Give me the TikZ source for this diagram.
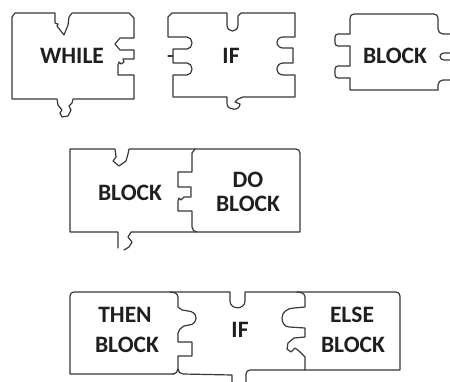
\documentclass[tikz,border=0pt]{standalone}
\usepackage{fontspec}
\setmainfont{Carlito}
\begin{document}
\begin{tikzpicture}[x=1pt,y=-1pt,
  piece/.style={draw=black!78, line width=1.2pt, line join=round, line cap=round},
  lbl/.style={font=\fontsize{23.5}{24}\selectfont\bfseries, text=black!88, inner sep=0pt}]
\useasboundingbox (0,0) rectangle (450,381);

% ---- Row 1: WHILE piece
\draw[piece] (12,17) -- (15,13) -- (55,13) -- (55,23) -- (58,24) -- (57,26) -- (64,35) -- (68,25) -- (69,17) -- (72,13)
  -- (129,13) -- (134,18) -- (134,38) -- (120,38) -- (115,44) -- (120,50) -- (134,50) -- (134,59)
  -- (123,59) -- (124,62) -- (121,64) -- (119,62) -- (118,65) -- (118,75) -- (134,75) -- (134,99)
  -- (73,99) -- (72,103) -- (69,106) -- (71,110) -- (68,116) -- (62,117) -- (60,113) -- (62,110) -- (58,105) -- (57,99)
  -- (12,99) -- cycle;

% ---- Row 1: IF piece
\draw[piece] (168,17) -- (172,13) -- (227,13) -- (227,25) .. controls (227,33) and (238,33) .. (238,25) -- (238,16) -- (241,13)
  -- (295,13) -- (295,37) -- (283,37) to[out=180,in=90] (277,42.5) to[out=-90,in=180] (283,48) -- (293,48) -- (293,63)
  -- (283,63) to[out=180,in=90] (277,69) to[out=-90,in=180] (283,75) -- (295,75) -- (295,97)
  -- (243,97) -- (238,99) -- (235,102) -- (240,104) .. controls (240,111) and (228,111) .. (227,104) -- (227,97)
  -- (173,97) -- (173,75) -- (187,75) to[out=0,in=-90] (192,69) to[out=90,in=0] (187,63) -- (173,63) -- (173,49)
  -- (187,49) to[out=0,in=-90] (192,43) to[out=90,in=0] (187,37) -- (168,37) -- cycle;
\draw[piece] (168,56) -- (173,56);

% ---- Row 1: BLOCK piece (cut at right border)
\draw[piece] (438,90) -- (350,90) -- (350,78) -- (338,78) to[out=180,in=-90] (335,75) -- (335,69) to[out=90,in=180] (338,66)
  -- (350,66) -- (350,46) -- (338,46) to[out=180,in=-90] (335,43) -- (335,37) to[out=90,in=180] (338,34) -- (350,34)
  -- (350,18) to[out=90,in=180] (354,14) -- (434,14) to[out=0,in=90] (438,18) -- (438,29) to[out=-90,in=180] (443,34) -- (451,34);
\draw[piece] (451,53) -- (444,53) to[out=180,in=90] (440,56.5) to[out=-90,in=180] (444,60) -- (451,60);
\draw[piece] (451,80) -- (443,80) to[out=180,in=90] (438,85) -- (438,90);

% ---- Row 2: BLOCK + DO BLOCK
\draw[piece] (118,248) -- (118,232) -- (70,232) -- (70,149) -- (115,149) -- (116,157) -- (113,161) -- (119,166) -- (126,161) -- (128,154) -- (129,149)
  -- (296,149) to[out=0,in=90] (300,153) -- (300,232) -- (131,232) -- (128,237) -- (132,242) -- (129,247) -- (124,250);
\draw[piece] (195,149) -- (192,153) -- (192,172) -- (178,172) -- (178,187) -- (191,187) -- (191,197) -- (184,197) -- (181,200)
  -- (179,198) -- (178,201) -- (178,211) -- (192,211) -- (192,227) to[out=-90,in=180] (197,232);

% ---- Row 3: THEN BLOCK | IF | ELSE BLOCK
\draw[piece] (174,374) -- (70,374) -- (70,296) to[out=90,in=180] (74,292) -- (230,292) -- (230,301) .. controls (230,310) and (245,310) .. (245,301)
  -- (245,292) -- (396,292) to[out=0,in=90] (400,296) -- (400,370) -- (250,370) to[out=180,in=90] (246,374) -- (246,382);
\draw[piece] (170,292) to[out=0,in=90] (178,297) -- (178,307) -- (182,310) -- (188,311) to[out=0,in=90] (196,318) to[out=-90,in=0] (189,325)
  -- (184,326) -- (180,329) -- (178,333) -- (178,342) -- (192,342) -- (192,356) -- (178,356) -- (178,369) to[out=-90,in=0] (173,374);
\draw[piece] (178,369) to[out=-90,in=180] (183,374) -- (232,375) -- (232,382);
\draw[piece] (297,292) to[out=0,in=90] (305,297) -- (305,307) -- (294,308) to[out=180,in=90] (282,318) to[out=-90,in=180] (289,327)
  -- (305,328) -- (305,337) -- (294,338) -- (288,343) -- (287,349) -- (291,352) -- (295,348) -- (299,351) -- (305,357) -- (305,370);

% ---- Labels
\node[lbl] (tWhile) at (72,56) {WHILE};
\node[lbl] (tIfA) at (231,56) {IF};
\node[lbl] (tBlkA) at (395,56) {BLOCK};
\node[lbl] (tBlkB) at (130,193) {BLOCK};
\node[lbl] (tDo) at (248,180) {DO};
\node[lbl] (tDoB) at (248,204) {BLOCK};
\node[lbl] (tThen) at (125,315) {THEN};
\node[lbl] (tThenB) at (127,345) {BLOCK};
\node[lbl] (tIfB) at (240,330) {IF};
\node[lbl] (tElse) at (352,315) {ELSE};
\node[lbl] (tElseB) at (353,345) {BLOCK};
\end{tikzpicture}
\end{document}
